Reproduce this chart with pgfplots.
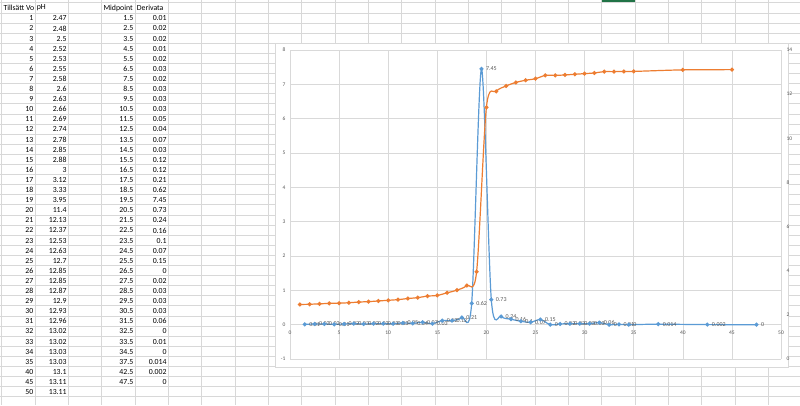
\documentclass[border=0pt]{standalone}
\usepackage{pgfplots}
\pgfplotsset{compat=1.18}
\usepackage{pgfplotstable}
\usepackage{fontspec}
\setmainfont{Carlito}
\definecolor{xlblue}{HTML}{5B9BD5}
\definecolor{xlorange}{HTML}{ED7D31}
\definecolor{xlgrid}{HTML}{D9D9D9}
\definecolor{xltext}{HTML}{595959}
\definecolor{cellgrid}{HTML}{D8D8D8}
\definecolor{xlgreen}{HTML}{217346}

\pgfplotstableread{
x y
1 2.47
2 2.48
3 2.5
4 2.52
5 2.53
6 2.55
7 2.58
8 2.6
9 2.63
10 2.66
11 2.69
12 2.74
13 2.78
14 2.85
15 2.88
16 3
17 3.12
18 3.33
19 3.95
20 11.4
21 12.13
22 12.37
23 12.53
24 12.63
25 12.7
26 12.85
27 12.85
28 12.87
29 12.9
30 12.93
31 12.96
32 13.02
33 13.02
34 13.03
35 13.03
40 13.1
45 13.11
}\phdata

\pgfplotstableread{
x y
1.5 0.01
2.5 0.02
3.5 0.02
4.5 0.01
5.5 0.02
6.5 0.03
7.5 0.02
8.5 0.03
9.5 0.03
10.5 0.03
11.5 0.05
12.5 0.04
13.5 0.07
14.5 0.03
15.5 0.12
16.5 0.12
17.5 0.21
18.5 0.62
19.5 7.45
20.5 0.73
21.5 0.24
22.5 0.16
23.5 0.1
24.5 0.07
25.5 0.15
26.5 0
27.5 0.02
28.5 0.03
29.5 0.03
30.5 0.03
31.5 0.06
32.5 0
33.5 0.01
34.5 0
37.5 0.014
42.5 0.002
47.5 0
}\derivdata

\newcommand{\cellfont}{\fontsize{7.8}{9}\selectfont}
\newcommand{\tickfont}{\fontsize{5.5}{6.5}\selectfont}
\newcommand{\labfont}{\fontsize{6}{7}\selectfont}

\begin{document}
\begin{tikzpicture}
\useasboundingbox (0,0) rectangle (800pt,-405pt);
\fill[white] (0,0) rectangle (800pt,-405pt);
\begin{scope}[x=1pt,y=-1pt]
  % spreadsheet grid
  \foreach \k in {0,...,40} \draw[cellgrid, line width=0.6pt] (0,{2.7+10.1*\k}) -- (800,{2.7+10.1*\k});
  \foreach \k in {0,...,24} \draw[cellgrid, line width=0.6pt] ({1.7+33.333*\k},0) -- ({1.7+33.333*\k},405);
  \fill[xlgreen] (602,0) rectangle (635,1.8);
  % headers
  \node[anchor=west, inner sep=0, font=\cellfont] at (3.3,8) {Tillsätt Vo};
  \node[anchor=west, inner sep=0, font=\cellfont] at (36.7,8) {pH};
  \node[anchor=west, inner sep=0, font=\cellfont] at (103.3,8) {Midpoint};
  \node[anchor=west, inner sep=0, font=\cellfont] at (136.7,8) {Derivata};
  % columns A and B
  \foreach \r/\a/\b in {1/1/2.47,2/2/2.48,3/3/2.5,4/4/2.52,5/5/2.53,6/6/2.55,7/7/2.58,8/8/2.6,9/9/2.63,10/10/2.66,11/11/2.69,12/12/2.74,13/13/2.78,14/14/2.85,15/15/2.88,16/16/3,17/17/3.12,18/18/3.33,19/19/3.95,20/20/11.4,21/21/12.13,22/22/12.37,23/23/12.53,24/24/12.63,25/25/12.7,26/26/12.85,27/27/12.85,28/28/12.87,29/29/12.9,30/30/12.93,31/31/12.96,32/32/13.02,33/33/13.02,34/34/13.03,35/35/13.03,36/40/13.1,37/45/13.11,38/50/13.11}{
    \node[anchor=east, inner sep=0, font=\cellfont] at (33.5,{8.2+10.1*\r}) {\a};
    \node[anchor=east, inner sep=0, font=\cellfont] at (66.8,{8.2+10.1*\r}) {\b};
  }
  % columns D and E
  \foreach \r/\a/\b in {1/1.5/0.01,2/2.5/0.02,3/3.5/0.02,4/4.5/0.01,5/5.5/0.02,6/6.5/0.03,7/7.5/0.02,8/8.5/0.03,9/9.5/0.03,10/10.5/0.03,11/11.5/0.05,12/12.5/0.04,13/13.5/0.07,14/14.5/0.03,15/15.5/0.12,16/16.5/0.12,17/17.5/0.21,18/18.5/0.62,19/19.5/7.45,20/20.5/0.73,21/21.5/0.24,22/22.5/0.16,23/23.5/0.1,24/24.5/0.07,25/25.5/0.15,26/26.5/0,27/27.5/0.02,28/28.5/0.03,29/29.5/0.03,30/30.5/0.03,31/31.5/0.06,32/32.5/0,33/33.5/0.01,34/34.5/0,35/37.5/0.014,36/42.5/0.002,37/47.5/0}{
    \node[anchor=east, inner sep=0, font=\cellfont] at (133.5,{8.2+10.1*\r}) {\a};
    \node[anchor=east, inner sep=0, font=\cellfont] at (166.8,{8.2+10.1*\r}) {\b};
  }
  % chart area
  \filldraw[fill=white, draw=xlgrid, line width=0.6pt] (275,43) rectangle (788,367);
\end{scope}

\begin{axis}[
  at={(290pt,-359pt)}, anchor=south west,
  scale only axis, width=491pt, height=309pt,
  xmin=0, xmax=50, ymin=-1, ymax=8,
  xtick={0,5,...,50}, ytick={-1,0,...,8},
  axis x line=middle, axis y line=left,
  axis line style={-},
  x axis line style={draw=xlgrid, line width=0.6pt},
  y axis line style={draw=none},
  hide obscured x ticks=false, hide obscured y ticks=false,
  grid=major, major grid style={draw=xlgrid, line width=0.6pt},
  major tick length=0pt, tick style={draw=none},
  ticklabel style={font=\tickfont, text=xltext},
  xticklabel style={yshift=-3pt},
  yticklabel style={xshift=-1pt},
  /pgf/number format/assume math mode=true,
  clip=false,
]
\addplot[xlblue, line width=1.2pt, smooth, mark=*, mark size=1.4pt,
  mark options={fill=xlblue, draw=xlblue},
  nodes near coords, point meta=explicit symbolic,
  every node near coord/.append style={anchor=west, font=\labfont, text=xltext, inner sep=0.5pt, xshift=3.5pt}]
  table[x=x, y=y, meta=y] {\derivdata};
\end{axis}

\begin{axis}[
  at={(290pt,-359pt)}, anchor=south west,
  scale only axis, width=491pt, height=309pt,
  xmin=0, xmax=50, ymin=0, ymax=14,
  ytick={0,2,...,14},
  axis x line=none, axis y line*=right,
  axis line style={-},
  y axis line style={draw=none},
  major tick length=0pt, tick style={draw=none},
  ticklabel style={font=\tickfont, text=xltext},
  yticklabel style={xshift=2pt},
  /pgf/number format/assume math mode=true,
  clip=false,
]
\addplot[xlorange, line width=1.2pt, smooth, mark=*, mark size=1.4pt,
  mark options={fill=xlorange, draw=xlorange}]
  table[x=x, y=y] {\phdata};
\end{axis}
\end{tikzpicture}
\end{document}
